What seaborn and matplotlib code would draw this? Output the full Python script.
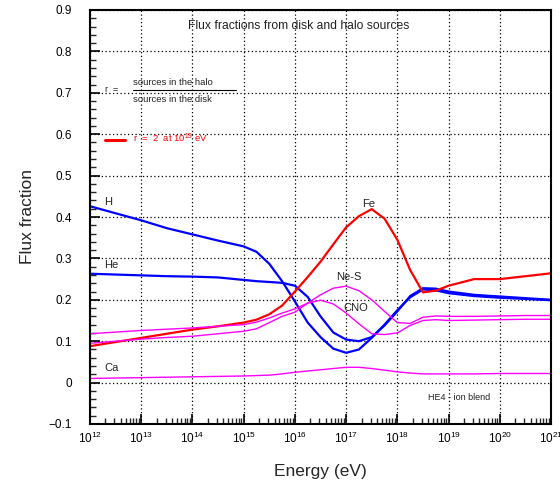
"""
Flux fractions from disk and halo sources vs. energy (r = 2 at 1e19 eV).
Curves digitised by eye from the reference figure.
"""
import matplotlib
matplotlib.use("Agg")
import matplotlib.pyplot as plt
from matplotlib.ticker import FixedLocator, LogLocator, MultipleLocator, NullFormatter
import numpy as np
import pandas as pd
import seaborn as sns

OUT_PATH = "out.png"

# log10(E / eV) grid the curves were read on
LOG_E = [12, 12.5, 13, 13.5, 14, 14.5, 15, 15.25, 15.5, 15.75, 16, 16.25, 16.5,
         16.75, 17, 17.25, 17.5, 17.75, 18, 18.25, 18.5, 18.75, 19, 19.5, 20,
         20.5, 21]

H = [0.426, 0.409, 0.392, 0.373, 0.358, 0.343, 0.329, 0.316, 0.287, 0.245,
     0.196, 0.145, 0.110, 0.082, 0.072, 0.080, 0.108, 0.140, 0.175, 0.206,
     0.225, 0.223, 0.216, 0.209, 0.205, 0.202, 0.199]
HE = [0.263, 0.261, 0.259, 0.257, 0.256, 0.254, 0.248, 0.245, 0.243, 0.241,
      0.234, 0.207, 0.160, 0.121, 0.104, 0.100, 0.110, 0.138, 0.172, 0.209,
      0.228, 0.227, 0.220, 0.212, 0.208, 0.204, 0.200]
FE = [0.088, 0.098, 0.108, 0.118, 0.128, 0.136, 0.145, 0.152, 0.165, 0.186,
      0.220, 0.255, 0.292, 0.334, 0.375, 0.402, 0.419, 0.396, 0.345, 0.272,
      0.218, 0.222, 0.234, 0.250, 0.250, 0.257, 0.264]
NES = [0.118, 0.122, 0.126, 0.129, 0.132, 0.136, 0.140, 0.146, 0.156, 0.168,
       0.178, 0.192, 0.212, 0.228, 0.233, 0.222, 0.200, 0.172, 0.145, 0.143,
       0.158, 0.161, 0.160, 0.160, 0.161, 0.162, 0.162]
CNO = [0.095, 0.100, 0.105, 0.109, 0.112, 0.118, 0.124, 0.130, 0.145, 0.160,
       0.170, 0.192, 0.199, 0.190, 0.168, 0.142, 0.118, 0.116, 0.120, 0.138,
       0.150, 0.152, 0.150, 0.151, 0.152, 0.153, 0.153]
CA = [0.010, 0.011, 0.012, 0.013, 0.014, 0.015, 0.016, 0.017, 0.018, 0.021,
      0.025, 0.028, 0.031, 0.034, 0.037, 0.037, 0.034, 0.030, 0.026, 0.023,
      0.021, 0.021, 0.021, 0.021, 0.022, 0.022, 0.022]

SERIES = [("H", H, "#0000ff", 1.6), ("He", HE, "#0000ff", 1.6),
          ("Fe", FE, "#ff0000", 1.6), ("Ne-S", NES, "#ff00ff", 1.0),
          ("CNO", CNO, "#ff00ff", 1.0), ("Ca", CA, "#ff00ff", 1.0)]

# curve labels: (text, log10 E, flux fraction)
LABELS = [("H", 12.35, 0.436), ("He", 12.42, 0.283), ("Ca", 12.42, 0.036),
          ("Fe", 17.43, 0.432), ("Ne-S", 17.06, 0.255), ("CNO", 17.18, 0.181)]

X_TICKS = list(range(12, 22))


def main():
    sns.set_theme(style="ticks")
    plt.rcParams["font.family"] = ["Liberation Sans", "DejaVu Sans"]
    plt.rcParams["mathtext.fontset"] = "custom"
    plt.rcParams["mathtext.rm"] = "Liberation Sans"
    plt.rcParams["mathtext.it"] = "Liberation Sans:italic"

    fig = plt.figure(figsize=(5.6, 4.92), dpi=100)
    ax = fig.add_axes([90 / 560, 1 - 424 / 492, 461 / 560, 414 / 492])

    energy = 10.0 ** np.array(LOG_E)
    for name, vals, color, lw in SERIES:
        df = pd.DataFrame({"energy": energy, "frac": vals})
        sns.lineplot(data=df, x="energy", y="frac", color=color, linewidth=lw,
                     ax=ax, legend=False)

    ax.set_xscale("log")
    ax.set_xlim(1e12, 1e21)
    ax.set_ylim(-0.1, 0.9)

    ax.xaxis.set_major_locator(FixedLocator([10.0 ** k for k in X_TICKS]))
    ax.set_xticklabels([f"$10^{{{k}}}$" for k in X_TICKS])
    ax.xaxis.set_minor_locator(LogLocator(base=10, subs=np.arange(2, 10), numticks=100))
    ax.xaxis.set_minor_formatter(NullFormatter())
    ax.yaxis.set_major_locator(MultipleLocator(0.1))
    ax.yaxis.set_minor_locator(MultipleLocator(0.02))
    ax.set_yticklabels([f"{v:.1f}".replace("-", "\u2212") if abs(v) > 1e-9 else "0"
                        for v in ax.get_yticks()])

    ax.tick_params(which="major", direction="in", length=7, width=1.2,
                   colors="black")
    ax.tick_params(axis="y", which="major", pad=13, labelsize=8.5)
    ax.tick_params(axis="x", which="major", pad=5, labelsize=8.5)
    ax.tick_params(which="minor", direction="in", length=4, width=1.0)

    ax.grid(True, which="major", linestyle=(0, (1, 2)), color="black", linewidth=0.9)
    for sp in ax.spines.values():
        sp.set_linewidth(1.5)
        sp.set_color("black")

    ax.set_xlabel("Energy (eV)", fontsize=12.5, labelpad=13)
    ax.set_ylabel("Flux fraction", fontsize=12.5, labelpad=10)

    for text, lx, ly in LABELS:
        ax.text(10.0 ** lx, ly, text, fontsize=8, ha="center", va="center",
                color="#222222")
    ax.text(10.0 ** 19.2, -0.037, "HE4 - ion blend", fontsize=6.5,
            ha="center", va="center", color="#222222")

    # header / annotation block in axes coordinates
    tr = ax.transAxes
    ax.text(0.453, 0.961, "Flux fractions from disk and halo sources",
            fontsize=8.7, ha="center", va="center", transform=tr, color="#222222")
    ax.text(0.046, 0.807, "r  =", fontsize=6.5, ha="center", va="center",
            transform=tr, color="#222222")
    ax.text(0.093, 0.826, "sources in the halo", fontsize=6.8, ha="left",
            va="center", transform=tr, color="#222222")
    ax.plot([0.093, 0.317], [0.807, 0.807], color="black", linewidth=0.8,
            transform=tr)
    ax.text(0.093, 0.785, "sources in the disk", fontsize=6.8, ha="left",
            va="center", transform=tr, color="#222222")
    ax.plot([0.033, 0.076], [0.686, 0.686], color="#ff0000", linewidth=2.2,
            transform=tr)
    ax.text(0.093, 0.689, r"r  =  2  at $10^{19}$ eV", fontsize=6.8, ha="left",
            va="center", transform=tr, color="#ff0000")

    fig.savefig(OUT_PATH, dpi=100)


if __name__ == "__main__":
    main()
